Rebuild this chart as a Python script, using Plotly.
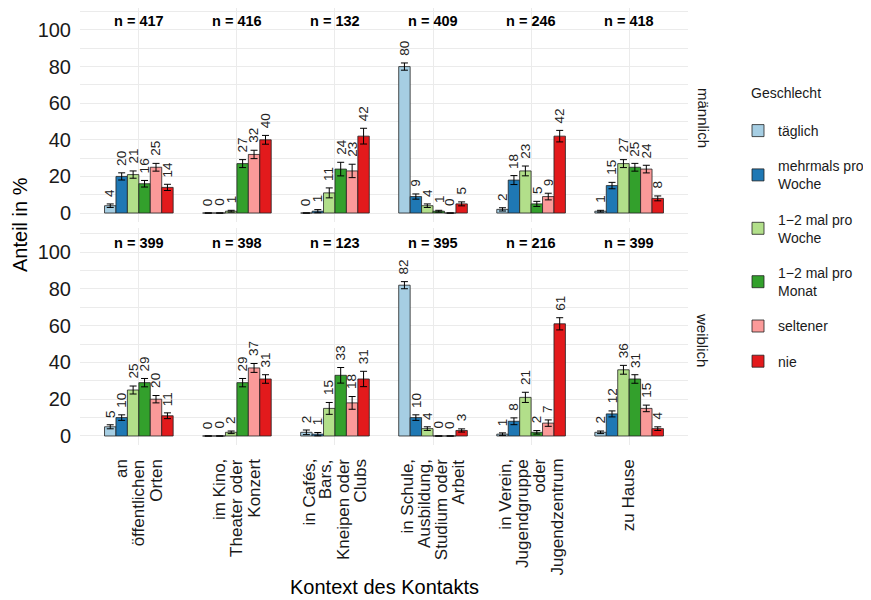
import plotly.graph_objects as go

categories = [
    ["an", "öffentlichen", "Orten"],
    ["im Kino,", "Theater oder", "Konzert"],
    ["in Cafés,", "Bars,", "Kneipen oder", "Clubs"],
    ["in Schule,", "Ausbildung,", "Studium oder", "Arbeit"],
    ["in Verein,", "Jugendgruppe", "oder", "Jugendzentrum"],
    ["zu Hause"],
]
frequencies = ["täglich", "mehrmals pro<br>Woche", "1−2 mal pro<br>Woche",
               "1−2 mal pro<br>Monat", "seltener", "nie"]
colors = ["#A6CEE3", "#1F78B4", "#B2DF8A", "#33A02C", "#FB9A99", "#E31A1C"]

n_maennlich = [417, 416, 132, 409, 246, 418]
n_weiblich = [399, 398, 123, 395, 216, 399]

# männlich: share in % per frequency, per context
m_taeglich = [4, 0, 0, 80, 2, 1]
m_mehrmals = [20, 0, 1, 9, 18, 15]
m_woche = [21, 1, 11, 4, 23, 27]
m_monat = [16, 27, 24, 1, 5, 25]
m_seltener = [25, 32, 23, 0, 9, 24]
m_nie = [14, 40, 42, 5, 42, 8]

# weiblich
w_taeglich = [5, 0, 2, 82, 1, 2]
w_mehrmals = [10, 0, 1, 10, 8, 12]
w_woche = [25, 2, 15, 4, 21, 36]
w_monat = [29, 29, 33, 0, 2, 31]
w_seltener = [20, 37, 18, 0, 7, 15]
w_nie = [11, 31, 31, 3, 61, 4]

# error bar half-lengths (standard errors, %)
m_taeglich_se = [0.96, 0, 0, 1.98, 0.89, 0.49]
m_mehrmals_se = [1.96, 0, 0.87, 1.42, 2.45, 1.75]
m_woche_se = [1.99, 0.49, 2.72, 0.97, 2.68, 2.17]
m_monat_se = [1.80, 2.18, 3.72, 0.49, 1.39, 2.12]
m_seltener_se = [2.12, 2.29, 3.66, 0, 1.82, 2.09]
m_nie_se = [1.70, 2.40, 4.30, 1.08, 3.15, 1.33]

w_taeglich_se = [1.09, 0, 1.26, 1.93, 0.68, 0.70]
w_mehrmals_se = [1.50, 0, 0.90, 1.51, 1.85, 1.63]
w_woche_se = [2.17, 0.70, 3.22, 0.99, 2.77, 2.40]
w_monat_se = [2.27, 2.27, 4.24, 0, 0.95, 2.32]
w_seltener_se = [2.00, 2.42, 3.46, 0, 1.74, 1.79]
w_nie_se = [1.57, 2.32, 4.17, 0.86, 3.32, 0.98]

m_values = [m_taeglich, m_mehrmals, m_woche, m_monat, m_seltener, m_nie]
w_values = [w_taeglich, w_mehrmals, w_woche, w_monat, w_seltener, w_nie]
m_se = [m_taeglich_se, m_mehrmals_se, m_woche_se, m_monat_se, m_seltener_se, m_nie_se]
w_se = [w_taeglich_se, w_mehrmals_se, w_woche_se, w_monat_se, w_seltener_se, w_nie_se]

FONT = "Liberation Sans, Arial, Helvetica, sans-serif"
xs = list(range(1, len(categories) + 1))
GROUP_W = 0.7
nf = len(frequencies)

# The page body has an 8px margin; the figure is sized to fill the rest of the window.
OFF = 8
W, H = 871 - OFF, 600 - OFF
# plot area in window pixels: x 80..688, y 8..445
PX_L, PX_R, PX_T, PX_B = 80, 688, 8, 445
ML, MR, MT, MB = PX_L - OFF, W - (PX_R - OFF), PX_T - OFF, H - (PX_B - OFF)
PW, PH = PX_R - PX_L, PX_B - PX_T


def px_to_paper_x(px):
    return (px - PX_L) / PW


def px_to_paper_y(py):
    return (PX_B - py) / PH


fig = go.Figure()
annotations = []

panels = [("y", "x", m_values, m_se, n_maennlich),
          ("y2", "x2", w_values, w_se, n_weiblich)]

for pi, (yax, xax, vals, ses, ns) in enumerate(panels):
    for fi in range(nf):
        fig.add_trace(go.Bar(
            x=xs, y=vals[fi], name=frequencies[fi],
            legendgroup=frequencies[fi], showlegend=(pi == 0),
            marker=dict(color=colors[fi], line=dict(color="#222222", width=0.8)),
            error_y=dict(type="data", array=ses[fi], visible=True,
                         color="#000000", thickness=1, width=3.5),
            xaxis=xax, yaxis=yax, offsetgroup=str(fi),
            hoverinfo="skip",
        ))
        for ci, v in enumerate(vals[fi]):
            xpos = xs[ci] - GROUP_W / 2 + (fi + 0.5) * GROUP_W / nf
            annotations.append(dict(
                x=xpos, y=v + ses[fi][ci] + 2.8, xref=xax, yref=yax,
                text=str(v), textangle=-90, showarrow=False,
                xanchor="center", yanchor="bottom",
                font=dict(family=FONT, size=13.5, color="#222222"),
            ))
    for ci, n in enumerate(ns):
        annotations.append(dict(
            x=xs[ci], y=105, xref=xax, yref=yax, text="<b>n = %d</b>" % n,
            showarrow=False, xanchor="center", yanchor="middle",
            font=dict(family=FONT, size=14.5, color="#000000"),
        ))

# category labels (rotated, one text per line, right aligned toward the axis)
LINE_STEP = 17.3 / (PW / 6.2)
for ci, lines in enumerate(categories):
    k = len(lines)
    for j, line in enumerate(lines):
        annotations.append(dict(
            x=xs[ci] + (j - (k - 1) / 2) * LINE_STEP, y=px_to_paper_y(457),
            xref="x2", yref="paper", text=line, textangle=-90, showarrow=False,
            xanchor="center", yanchor="top",
            font=dict(family=FONT, size=17, color="#1a1a1a"),
        ))

# facet strip labels
annotations.append(dict(x=px_to_paper_x(703), y=px_to_paper_y(118), xref="paper", yref="paper",
                        text="männlich", textangle=90, showarrow=False,
                        xanchor="center", yanchor="middle",
                        font=dict(family=FONT, size=15, color="#1a1a1a")))
annotations.append(dict(x=px_to_paper_x(703), y=px_to_paper_y(340), xref="paper", yref="paper",
                        text="weiblich", textangle=90, showarrow=False,
                        xanchor="center", yanchor="middle",
                        font=dict(family=FONT, size=15, color="#1a1a1a")))
# shared axis titles
annotations.append(dict(x=px_to_paper_x(20), y=px_to_paper_y(225), xref="paper", yref="paper",
                        text="Anteil in %", textangle=-90, showarrow=False,
                        xanchor="center", yanchor="middle",
                        font=dict(family=FONT, size=20, color="#000000")))
annotations.append(dict(x=0.5, y=px_to_paper_y(587), xref="paper", yref="paper",
                        text="Kontext des Kontakts", showarrow=False, borderpad=0,
                        xanchor="center", yanchor="middle",
                        font=dict(family=FONT, size=20, color="#000000")))
# legend title
annotations.append(dict(x=px_to_paper_x(749), y=px_to_paper_y(93), xref="paper", yref="paper",
                        text="Geschlecht", showarrow=False,
                        xanchor="left", yanchor="middle",
                        font=dict(family=FONT, size=14, color="#1a1a1a")))

GRID = "#EBEBEB"
yaxis_common = dict(tickvals=[0, 20, 40, 60, 80, 100],
                    showgrid=True, gridcolor=GRID, gridwidth=1.2,
                    minor=dict(tickvals=[10, 30, 50, 70, 90, 110], showgrid=True,
                               gridcolor=GRID, gridwidth=0.8),
                    zeroline=False, showline=False, ticks="", automargin=False,
                    ticklabelstandoff=8,
                    tickfont=dict(family=FONT, size=20, color="#1a1a1a"))
xaxis_common = dict(range=[0.4, 6.6], tickvals=xs, showgrid=True, gridcolor=GRID,
                    gridwidth=1.2, zeroline=False, showline=False, ticks="",
                    showticklabels=False, automargin=False)

fig.update_layout(
    width=W, height=H,
    margin=dict(l=ML, r=MR, t=MT, b=MB, autoexpand=False),
    paper_bgcolor="white", plot_bgcolor="white",
    barmode="group", bargap=0.3, bargroupgap=0,
    font=dict(family=FONT, color="#1a1a1a"),
    xaxis=dict(**xaxis_common, anchor="y"),
    xaxis2=dict(**xaxis_common, anchor="y2", matches="x"),
    yaxis=dict(**yaxis_common, range=[-4.9, 112.0],
               domain=[px_to_paper_y(222), 1.0]),
    yaxis2=dict(**yaxis_common, range=[-4.9, 113.1],
                domain=[0.0, px_to_paper_y(228)]),
    legend=dict(xref="container", yref="container",
                x=(738 - OFF) / W, y=1 - (115 - OFF) / H,
                xanchor="left", yanchor="top",
                font=dict(family=FONT, size=14, color="#1a1a1a"),
                tracegroupgap=14, bgcolor="rgba(0,0,0,0)"),
    annotations=annotations,
)

fig.write_html("out.html")
